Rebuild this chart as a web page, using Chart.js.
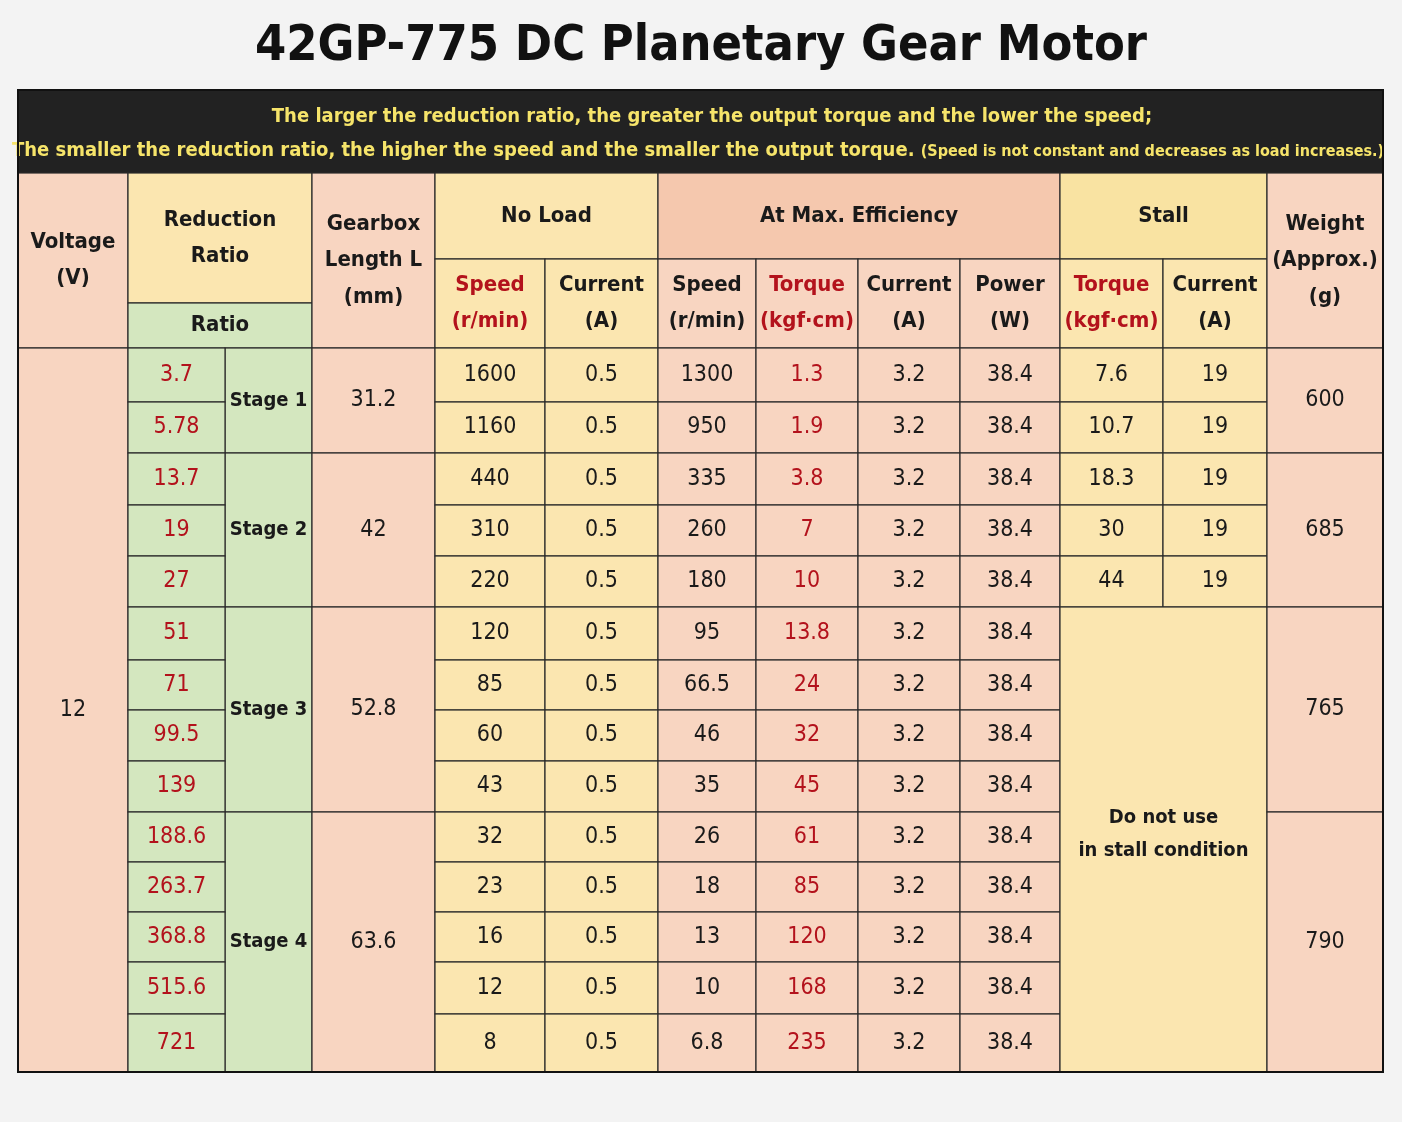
<!DOCTYPE html>
<html>
<head>
<meta charset="utf-8">
<script src="https://cdn.jsdelivr.net/npm/chart.js@4/dist/chart.umd.min.js"></script>
<style>
  body { margin: 0; background: #f3f3f3; }
  #wrap { width: 1402px; height: 1122px; }
</style>
</head>
<body>
<div id="wrap"><canvas id="tabela" width="1402" height="1122"></canvas></div>
<script>
// dados da tabela
const titulo = "42GP-775 DC Planetary Gear Motor";
const faixa1 = "The larger the reduction ratio, the greater the output torque and the lower the speed;";
const faixa2 = "The smaller the reduction ratio, the higher the speed and the smaller the output torque.";
const faixa2b = "(Speed is not constant and decreases as load increases.)";

const tensao = "12";
const razoes = ["3.7", "5.78", "13.7", "19", "27", "51", "71", "99.5", "139", "188.6", "263.7", "368.8", "515.6", "721"];
const estagios = ["Stage 1", "Stage 2", "Stage 3", "Stage 4"];
const linhasPorEstagio = [2, 3, 4, 5];
const comprimentos = ["31.2", "42", "52.8", "63.6"];
const velocidadeSemCarga = ["1600", "1160", "440", "310", "220", "120", "85", "60", "43", "32", "23", "16", "12", "8"];
const correnteSemCarga = ["0.5", "0.5", "0.5", "0.5", "0.5", "0.5", "0.5", "0.5", "0.5", "0.5", "0.5", "0.5", "0.5", "0.5"];
const velocidadeEf = ["1300", "950", "335", "260", "180", "95", "66.5", "46", "35", "26", "18", "13", "10", "6.8"];
const torqueEf = ["1.3", "1.9", "3.8", "7", "10", "13.8", "24", "32", "45", "61", "85", "120", "168", "235"];
const correnteEf = ["3.2", "3.2", "3.2", "3.2", "3.2", "3.2", "3.2", "3.2", "3.2", "3.2", "3.2", "3.2", "3.2", "3.2"];
const potenciaEf = ["38.4", "38.4", "38.4", "38.4", "38.4", "38.4", "38.4", "38.4", "38.4", "38.4", "38.4", "38.4", "38.4", "38.4"];
const torqueTravado = ["7.6", "10.7", "18.3", "30", "44"];
const correnteTravado = ["19", "19", "19", "19", "19"];
const avisoTravado = ["Do not use", "in stall condition"];
const pesos = ["600", "685", "765", "790"];

// layout (coordenadas no espaço das escalas)
const colunas = [18, 128, 225, 312, 435, 545, 658, 756, 858, 960, 1060, 1163, 1267, 1383];
const linhasCab = [90, 173, 259, 303, 348];
const linhasDados = [348, 402, 453, 505, 556, 607, 660, 710, 761, 812, 862, 912, 962, 1014, 1072];

const PESSEGO = "#f8d5c1";
const PESSEGO2 = "#f5c8ae";
const AMARELO = "#fbe6b0";
const AMARELO2 = "#f9e3a2";
const VERDE = "#d4e7bf";
const VERMELHO = "#b3121c";
const PRETO = "#1a1a1a";
const FONTE = "'DejaVu Sans Condensed', 'Liberation Sans', sans-serif";

function montarCelulas() {
  const celulas = [];
  const cab = (c0, c1, r0, r1, linhas, cor, vermelho) => {
    celulas.push({ c0, c1, y0: linhasCab[r0], y1: linhasCab[r1], linhas, cor, corTexto: PRETO, tam: 22,
      negrito: true, vermelhoPrimeira: !!vermelho });
  };
  cab(0, 1, 1, 4, ["Voltage", "(V)"], PESSEGO);
  cab(1, 3, 1, 3, ["Reduction", "Ratio"], AMARELO);
  cab(1, 3, 3, 4, ["Ratio"], VERDE);
  cab(3, 4, 1, 4, ["Gearbox", "Length L", "(mm)"], PESSEGO);
  cab(4, 6, 1, 2, ["No Load"], AMARELO);
  cab(4, 5, 2, 4, ["Speed", "(r/min)"], AMARELO, true);
  cab(5, 6, 2, 4, ["Current", "(A)"], AMARELO);
  cab(6, 10, 1, 2, ["At Max. Efficiency"], PESSEGO2);
  cab(6, 7, 2, 4, ["Speed", "(r/min)"], PESSEGO);
  cab(7, 8, 2, 4, ["Torque", "(kgf·cm)"], PESSEGO, true);
  cab(8, 9, 2, 4, ["Current", "(A)"], PESSEGO);
  cab(9, 10, 2, 4, ["Power", "(W)"], PESSEGO);
  cab(10, 12, 1, 2, ["Stall"], AMARELO2);
  cab(10, 11, 2, 4, ["Torque", "(kgf·cm)"], AMARELO, true);
  cab(11, 12, 2, 4, ["Current", "(A)"], AMARELO);
  cab(12, 13, 1, 4, ["Weight", "(Approx.)", "(g)"], PESSEGO);

  const dado = (c0, c1, r0, r1, linhas, cor, corTexto) => {
    const cel = { c0, c1, y0: linhasDados[r0], y1: linhasDados[r1], linhas, cor, corTexto: corTexto || PRETO, tam: 23 };
    celulas.push(cel);
    return cel;
  };
  dado(0, 1, 0, razoes.length, [tensao], PESSEGO);
  let inicio = 0;
  estagios.forEach((est, i) => {
    const fim = inicio + linhasPorEstagio[i];
    const c = dado(2, 3, inicio, fim, [est], VERDE);
    c.negrito = true; c.tam = 20;
    dado(3, 4, inicio, fim, [comprimentos[i]], PESSEGO);
    inicio = fim;
  });
  razoes.forEach((r, i) => {
    dado(1, 2, i, i + 1, [r], VERDE, VERMELHO);
    dado(4, 5, i, i + 1, [velocidadeSemCarga[i]], AMARELO);
    dado(5, 6, i, i + 1, [correnteSemCarga[i]], AMARELO);
    dado(6, 7, i, i + 1, [velocidadeEf[i]], PESSEGO);
    dado(7, 8, i, i + 1, [torqueEf[i]], PESSEGO, VERMELHO);
    dado(8, 9, i, i + 1, [correnteEf[i]], PESSEGO);
    dado(9, 10, i, i + 1, [potenciaEf[i]], PESSEGO);
  });
  torqueTravado.forEach((t, i) => {
    dado(10, 11, i, i + 1, [t], AMARELO);
    dado(11, 12, i, i + 1, [correnteTravado[i]], AMARELO);
  });
  const aviso = dado(10, 12, torqueTravado.length, razoes.length, avisoTravado, AMARELO);
  aviso.tam = 20; aviso.negrito = true; aviso.deslocY = -5;
  const gruposPeso = [[0, 2], [2, 5], [5, 9], [9, 14]];
  gruposPeso.forEach((g, i) => dado(12, 13, g[0], g[1], [pesos[i]], PESSEGO));
  return celulas;
}

const pluginTabela = {
  id: "tabela",
  afterDraw(chart) {
    const ctx = chart.ctx;
    const sx = chart.scales.x;
    const sy = chart.scales.y;
    const px = (c) => sx.getPixelForValue(colunas[c]);
    ctx.save();

    // título
    ctx.fillStyle = "#111";
    ctx.textAlign = "center";
    ctx.textBaseline = "middle";
    ctx.font = "bold 50px " + FONTE;
    ctx.fillText(titulo, sx.getPixelForValue(701), sy.getPixelForValue(47));

    // faixa preta
    const bx0 = px(0), bx1 = px(13);
    const by0 = sy.getPixelForValue(linhasCab[0]), by1 = sy.getPixelForValue(linhasCab[1]);
    ctx.fillStyle = "#222";
    ctx.fillRect(bx0, by0, bx1 - bx0, by1 - by0);
    ctx.fillStyle = "#f6e46a";
    ctx.font = "bold 20px " + FONTE;
    ctx.fillText(faixa1, sx.getPixelForValue(712), sy.getPixelForValue(117));
    ctx.textAlign = "left";
    const w2 = ctx.measureText(faixa2 + " ").width;
    ctx.font = "bold 16px " + FONTE;
    const w3 = ctx.measureText(faixa2b).width;
    const xIni = sx.getPixelForValue(698) - (w2 + w3) / 2;
    ctx.font = "bold 20px " + FONTE;
    ctx.fillText(faixa2, xIni, sy.getPixelForValue(151));
    ctx.font = "bold 16px " + FONTE;
    ctx.fillText(faixa2b, xIni + w2, sy.getPixelForValue(152));

    // células
    montarCelulas().forEach((cel) => {
      const x0 = px(cel.c0), x1 = px(cel.c1);
      const y0 = sy.getPixelForValue(cel.y0), y1 = sy.getPixelForValue(cel.y1);
      ctx.fillStyle = cel.cor;
      ctx.fillRect(x0, y0, x1 - x0, y1 - y0);
      ctx.strokeStyle = "#2a2a2a";
      ctx.lineWidth = 1.2;
      ctx.strokeRect(x0, y0, x1 - x0, y1 - y0);
      const n = cel.linhas.length;
      const passo = cel.tam * 1.65;
      const yc = (y0 + y1) / 2 + (cel.deslocY || 0);
      cel.linhas.forEach((t, i) => {
        ctx.textAlign = "center";
        ctx.fillStyle = cel.vermelhoPrimeira ? VERMELHO : cel.corTexto;
        ctx.font = (cel.negrito ? "bold " : "") + cel.tam + "px " + FONTE;
        ctx.fillText(t, (x0 + x1) / 2, yc + (i - (n - 1) / 2) * passo);
      });
    });

    // borda externa
    ctx.strokeStyle = "#111";
    ctx.lineWidth = 2;
    ctx.strokeRect(bx0, by0, bx1 - bx0, sy.getPixelForValue(linhasDados[linhasDados.length - 1]) - by0);
    ctx.restore();
  }
};

new Chart(document.getElementById("tabela"), {
  type: "scatter",
  data: { datasets: [{ data: [] }] },
  options: {
    responsive: false,
    animation: false,
    layout: { padding: 0 },
    plugins: { legend: { display: false }, tooltip: { enabled: false } },
    scales: {
      x: { type: "linear", min: 0, max: 1402, display: false },
      y: { type: "linear", min: 0, max: 1122, reverse: true, display: false }
    }
  },
  plugins: [pluginTabela]
});
</script>
</body>
</html>
